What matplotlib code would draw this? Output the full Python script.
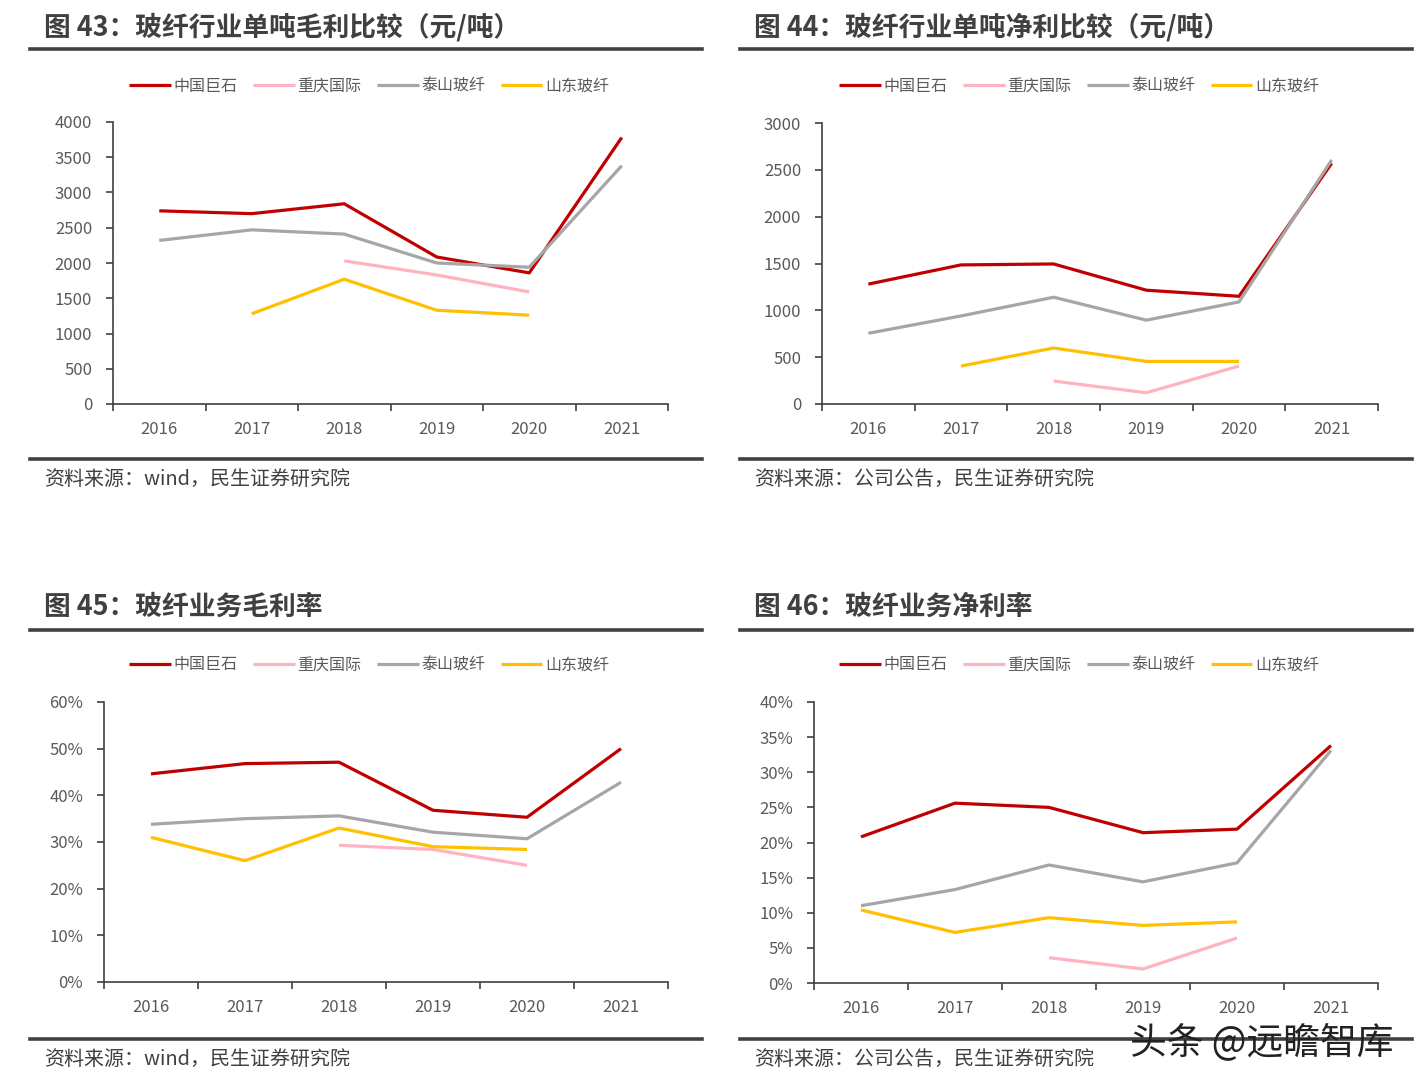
import matplotlib
matplotlib.use("Agg")
import matplotlib.pyplot as plt
from matplotlib.lines import Line2D
from matplotlib.ticker import FuncFormatter
import numpy as np

plt.rcParams['font.family'] = ['Noto Sans CJK SC', 'DejaVu Sans']

# ---- data ----
years = ["2016", "2017", "2018", "2019", "2020", "2021"]
companies = ["中国巨石", "重庆国际", "泰山玻纤", "山东玻纤"]
colors = ["#C00000", "#FFB3C1", "#A6A6A6", "#FFC000"]

# 图43 单吨毛利 (元/吨)
gp_jushi = [2740, 2700, 2840, 2085, 1860, 3780]
gp_cpic = [None, None, 2030, 1830, 1590, None]
gp_taishan = [2320, 2470, 2410, 2000, 1940, 3380]
gp_shandong = [None, 1280, 1770, 1330, 1260, None]

# 图44 单吨净利 (元/吨)
np_jushi = [1280, 1485, 1495, 1215, 1150, 2570]
np_cpic = [None, None, 245, 120, 405, None]
np_taishan = [755, 940, 1140, 895, 1090, 2605]
np_shandong = [None, 405, 598, 455, 455, None]

# 图45 毛利率 (%)
gm_jushi = [44.6, 46.8, 47.1, 36.8, 35.3, 50.0]
gm_cpic = [None, None, 29.3, 28.4, 25.0, None]
gm_taishan = [33.8, 35.0, 35.6, 32.1, 30.7, 42.8]
gm_shandong = [31.0, 26.0, 33.0, 29.0, 28.4, None]

# 图46 净利率 (%)
nm_jushi = [20.8, 25.6, 25.0, 21.4, 21.9, 33.8]
nm_cpic = [None, None, 3.6, 2.0, 6.4, None]
nm_taishan = [11.0, 13.3, 16.8, 14.4, 17.1, 33.1]
nm_shandong = [10.4, 7.2, 9.3, 8.2, 8.7, None]

W, H = 1425, 1090
fig = plt.figure(figsize=(W / 100, H / 100), dpi=100)

DARK = "#404040"
TICK = "#595959"


def fx(px):
    return px / W


def fy(py):
    return 1 - py / H


def hrule(x0, x1, y):
    fig.add_artist(Line2D([fx(x0), fx(x1)], [fy(y), fy(y)], color=DARK, lw=2.6,
                          transform=fig.transFigure))


def panel(box, title, source, series, ymax, ystep, pct, rule_x, title_y, rule_top, legend_y,
          rule_bot, source_y):
    left, top, right, bottom = box
    fig.text(fx(rule_x + 14), fy(title_y), title, fontsize=19.3, fontweight="bold",
             color=DARK, va="center", ha="left")
    hrule(rule_x, rule_x + 672, rule_top)
    hrule(rule_x, rule_x + 672, rule_bot)
    fig.text(fx(rule_x + 14), fy(source_y), source, fontsize=14.4, color=DARK,
             va="center", ha="left")

    ax = fig.add_axes([fx(left), fy(bottom), fx(right - left), (bottom - top) / H])
    x = np.arange(len(years)) + 0.5
    handles = []
    for name, vals, c in zip(companies, series, colors):
        y = np.array([np.nan if v is None else v for v in vals], dtype=float)
        h, = ax.plot(x, y, color=c, lw=2.3, label=name, solid_capstyle="butt")
        handles.append(h)
    ax.set_xlim(0, len(years))
    ax.set_ylim(0, ymax)
    ax.set_yticks(np.arange(0, ymax + ystep / 2, ystep))
    if pct:
        ax.yaxis.set_major_formatter(FuncFormatter(lambda v, p: f"{v:.0f}%"))
    ax.set_xticks(np.arange(0, len(years) + 1))
    ax.set_xticklabels([])
    ax.set_xticks(x, minor=True)
    ax.set_xticklabels(years, minor=True)
    ax.tick_params(axis="x", which="major", length=5, width=1.2, color=DARK, direction="out")
    ax.tick_params(axis="x", which="minor", length=0, pad=12, labelsize=12, labelcolor=TICK)
    ax.tick_params(axis="y", length=5, width=1.2, color=DARK, labelsize=12,
                   labelcolor=TICK, pad=10)
    for s in ["top", "right"]:
        ax.spines[s].set_visible(False)
    for s in ["left", "bottom"]:
        ax.spines[s].set_color(DARK)
        ax.spines[s].set_linewidth(1.2)

    fig.legend(handles=handles, loc="center", ncol=4, frameon=False,
               bbox_to_anchor=(fx(rule_x + 339), fy(legend_y)), fontsize=11.5,
               handlelength=2.6, handletextpad=0.15, columnspacing=1.0,
               labelcolor=TICK)
    return ax


panel((113, 122, 668, 404), "图 43：玻纤行业单吨毛利比较（元/吨）", "资料来源：wind，民生证券研究院",
      [gp_jushi, gp_cpic, gp_taishan, gp_shandong], 4000, 500, False,
      30, 27, 49, 86, 459, 479)
panel((822, 123, 1378, 404), "图 44：玻纤行业单吨净利比较（元/吨）", "资料来源：公司公告，民生证券研究院",
      [np_jushi, np_cpic, np_taishan, np_shandong], 3000, 500, False,
      740, 27, 49, 86, 459, 479)
panel((104, 702, 668, 982), "图 45：玻纤业务毛利率", "资料来源：wind，民生证券研究院",
      [gm_jushi, gm_cpic, gm_taishan, gm_shandong], 60, 10, True,
      30, 607, 630, 665, 1039, 1059)
panel((814, 702, 1378, 983), "图 46：玻纤业务净利率", "资料来源：公司公告，民生证券研究院",
      [nm_jushi, nm_cpic, nm_taishan, nm_shandong], 40, 5, True,
      740, 607, 630, 665, 1039, 1059)

# watermark
fig.text(fx(1130), fy(1043), "头条 @远瞻智库", fontsize=26.5, color="#222222",
         va="center", ha="left")

fig.savefig("out.png", dpi=100)
